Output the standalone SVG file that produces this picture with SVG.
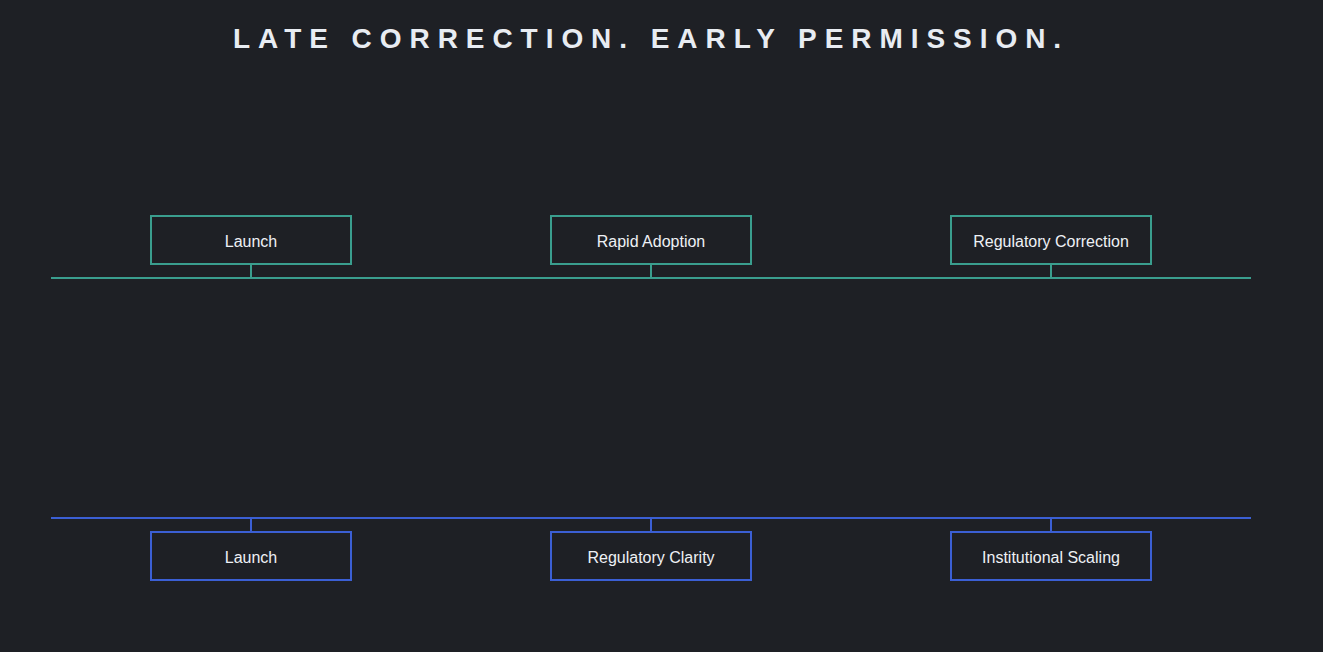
<svg xmlns="http://www.w3.org/2000/svg" width="1323" height="652" viewBox="0 0 1323 652">
<style>
.bg{fill:#1e2025}
.title{font-family:"Liberation Sans",Arial,sans-serif;font-weight:bold;font-size:28px;letter-spacing:7.95px;fill:#e8ecf2}
.lbl{font-family:"Liberation Sans",Arial,sans-serif;font-size:16px;fill:#eef1f5;text-anchor:middle}
.t{stroke:#3a9e8e;stroke-width:2;fill:none}
.b{stroke:#3b5fd4;stroke-width:2;fill:none}
.tb{fill:#1e2025;stroke:#3a9e8e;stroke-width:2}
.bb{fill:#1e2025;stroke:#3b5fd4;stroke-width:2}
</style>
<rect class="bg" x="0" y="0" width="1323" height="652"/>
<text class="title" x="233" y="48">LATE CORRECTION. EARLY PERMISSION.</text>
<g id="connectors">
<line class="t" x1="51" y1="278" x2="1251" y2="278"/>
<line class="t" x1="251" y1="264" x2="251" y2="278"/>
<line class="t" x1="651" y1="264" x2="651" y2="278"/>
<line class="t" x1="1051" y1="264" x2="1051" y2="278"/>
<line class="b" x1="51" y1="518" x2="1251" y2="518"/>
<line class="b" x1="251" y1="518" x2="251" y2="532"/>
<line class="b" x1="651" y1="518" x2="651" y2="532"/>
<line class="b" x1="1051" y1="518" x2="1051" y2="532"/>
</g>
<g id="top-launch"><rect class="tb" x="151" y="216" width="200" height="48"/><text class="lbl" x="251" y="247">Launch</text></g>
<g id="top-rapid"><rect class="tb" x="551" y="216" width="200" height="48"/><text class="lbl" x="651" y="247">Rapid Adoption</text></g>
<g id="top-correction"><rect class="tb" x="951" y="216" width="200" height="48"/><text class="lbl" x="1051" y="247">Regulatory Correction</text></g>
<g id="bot-launch"><rect class="bb" x="151" y="532" width="200" height="48"/><text class="lbl" x="251" y="563">Launch</text></g>
<g id="bot-clarity"><rect class="bb" x="551" y="532" width="200" height="48"/><text class="lbl" x="651" y="563">Regulatory Clarity</text></g>
<g id="bot-scaling"><rect class="bb" x="951" y="532" width="200" height="48"/><text class="lbl" x="1051" y="563">Institutional Scaling</text></g>
</svg>
